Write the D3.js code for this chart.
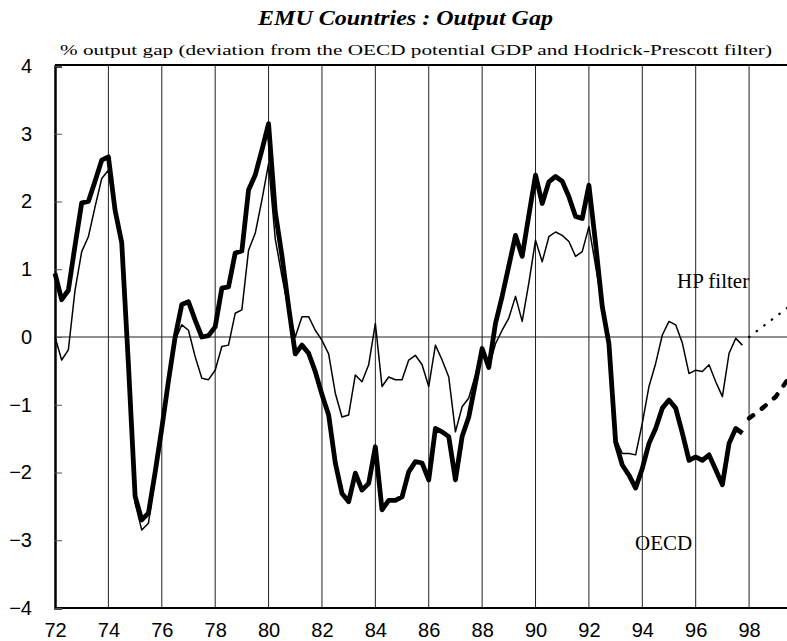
<!DOCTYPE html>
<html>
<head>
<meta charset="utf-8">
<script src="https://cdn.jsdelivr.net/npm/d3@7"></script>
<style>
  html, body { margin: 0; padding: 0; background: #fff; }
  svg { display: block; }
</style>
</head>
<body>
<div id="chart"></div>
<script>
// EMU output gap, quarterly, 1972Q1 - 1997Q4
const startYear = 72;
const oecdGap = [
  0.94, 0.55, 0.69, 1.35,   1.98, 2.0, 2.3, 2.61,     2.66, 1.87, 1.39, -0.4,
  -2.35, -2.7, -2.6, -2.0,  -1.35, -0.65, 0.0, 0.48,  0.52, 0.25, 0.0, 0.02,
  0.15, 0.72, 0.74, 1.24,   1.27, 2.17, 2.39, 2.76,   3.15, 1.85, 1.2, 0.45,
  -0.25, -0.12, -0.24, -0.51, -0.85, -1.15, -1.86, -2.31, -2.43, -2.01, -2.26, -2.16,
  -1.62, -2.55, -2.41, -2.41, -2.36, -1.99, -1.84, -1.86, -2.11, -1.35, -1.4, -1.47,
  -2.11, -1.47, -1.18, -0.68, -0.17, -0.45, 0.2, 0.6,   1.05, 1.5, 1.19, 1.8,
  2.39, 1.97, 2.29, 2.37,   2.3, 2.07, 1.78, 1.75,    2.24, 1.38, 0.45, -0.1,
  -1.55, -1.89, -2.04, -2.23, -1.94, -1.57, -1.35, -1.05, -0.93, -1.05, -1.42, -1.82,
  -1.77, -1.82, -1.74, -1.96, -2.18, -1.57, -1.35, -1.42
];
const hpGap = [
  0.0, -0.34, -0.19, 0.69,  1.26, 1.48, 1.92, 2.34,   2.46, 1.85, 1.3, -0.4,
  -2.45, -2.85, -2.75, -2.05, -1.3, -0.6, -0.05, 0.18, 0.1, -0.29, -0.61, -0.63,
  -0.49, -0.14, -0.12, 0.35, 0.4, 1.28, 1.53, 2.02,   2.56, 1.45, 0.9, 0.4,
  0.0, 0.3, 0.3, 0.1,       -0.05, -0.25, -0.83, -1.18, -1.15, -0.56, -0.66, -0.41,
  0.2, -0.73, -0.59, -0.63, -0.63, -0.34, -0.27, -0.41, -0.73, -0.12, -0.34, -0.59,
  -1.4, -1.03, -0.9, -0.56, -0.17, -0.45, -0.1, 0.1,  0.28, 0.6, 0.23, 0.8,
  1.43, 1.11, 1.48, 1.55,   1.5, 1.41, 1.19, 1.26,    1.63, 1.05, 0.45, -0.15,
  -1.5, -1.72, -1.72, -1.74, -1.27, -0.73, -0.39, 0.03, 0.23, 0.18, -0.09, -0.54,
  -0.49, -0.51, -0.41, -0.66, -0.88, -0.24, -0.02, -0.12
];
// projections beyond 98
const projYears = [98.0, 98.5, 99.0, 99.5];
const hpProj = [0.0, 0.15, 0.3, 0.45];
const oecdProj = [-1.2, -1.05, -0.88, -0.6];

const xTicks = [72, 74, 76, 78, 80, 82, 84, 86, 88, 90, 92, 94, 96, 98];
const yTicks = [-4, -3, -2, -1, 0, 1, 2, 3, 4];

const W = 787, H = 641;
const plotL = 55, plotR = 787, plotT = 66, plotB = 608;

const svg = d3.select('#chart').append('svg').attr('width', W).attr('height', H);

const x = d3.scaleLinear().domain([72, 99.42]).range([plotL, plotR]);
const y = d3.scaleLinear().domain([-4, 4]).range([plotB, plotT]);

const toPts = vals => vals.map((v, i) => ({ t: startYear + i / 4, v }));
const projPts = vals => vals.map((v, i) => ({ t: projYears[i], v }));

// vertical grid every two years
svg.append('g').selectAll('line').data(xTicks.slice(1)).join('line')
  .attr('x1', d => x(d)).attr('x2', d => x(d))
  .attr('y1', plotT).attr('y2', plotB)
  .attr('stroke', '#222').attr('stroke-width', 1);

// zero line
svg.append('line').attr('x1', plotL).attr('x2', plotR).attr('y1', y(0)).attr('y2', y(0))
  .attr('stroke', '#222').attr('stroke-width', 1.2);

// frame: top, bottom
svg.append('line').attr('x1', plotL).attr('x2', plotR).attr('y1', plotT - 1).attr('y2', plotT - 1)
  .attr('stroke', '#000').attr('stroke-width', 2);
svg.append('line').attr('x1', plotL).attr('x2', plotR).attr('y1', plotB).attr('y2', plotB)
  .attr('stroke', '#000').attr('stroke-width', 2);

// axes
const yAxis = svg.append('g').attr('transform', `translate(${plotL},0)`)
  .call(d3.axisLeft(y).tickValues(yTicks).tickSize(-7).tickPadding(23).tickFormat(d3.format('d')));
yAxis.select('.domain').attr('stroke-width', 2.5);
yAxis.selectAll('.tick line').attr('stroke', '#555');
yAxis.selectAll('text').attr('font-family', '"Liberation Sans", Arial, sans-serif').attr('font-size', 20).attr('fill', '#000');

const xAxis = svg.append('g').attr('transform', `translate(0,${plotB})`)
  .call(d3.axisBottom(x).tickValues(xTicks).tickSize(0).tickPadding(15).tickFormat(d3.format('d')));
xAxis.select('.domain').remove();
xAxis.selectAll('text').attr('font-family', '"Liberation Sans", Arial, sans-serif').attr('font-size', 20).attr('fill', '#000');

const line = d3.line().x(d => x(d.t)).y(d => y(d.v));

// HP filter (thin)
svg.append('path').datum(toPts(hpGap)).attr('d', line)
  .attr('fill', 'none').attr('stroke', '#000').attr('stroke-width', 1.5).attr('stroke-linejoin', 'round');
// OECD (thick)
svg.append('path').datum(toPts(oecdGap)).attr('d', line)
  .attr('fill', 'none').attr('stroke', '#000').attr('stroke-width', 4.8).attr('stroke-linejoin', 'round');

// projections
svg.append('path').datum(projPts(hpProj)).attr('d', line)
  .attr('fill', 'none').attr('stroke', '#000').attr('stroke-width', 2.2)
  .attr('stroke-linecap', 'round').attr('stroke-dasharray', '0.5,9');
svg.append('path').datum(projPts(oecdProj)).attr('d', line)
  .attr('fill', 'none').attr('stroke', '#000').attr('stroke-width', 4.5)
  .attr('stroke-linecap', 'round').attr('stroke-dasharray', '5,11');

// series labels
const serif = '"Liberation Serif", "Times New Roman", serif';
svg.append('text').attr('x', 677).attr('y', 288).attr('font-family', serif).attr('font-size', 21).text('HP filter');
svg.append('text').attr('x', 635).attr('y', 550).attr('font-family', serif).attr('font-size', 21).text('OECD');

// titles
svg.append('text').attr('x', 258).attr('y', 25).attr('font-family', serif).attr('font-size', 21)
  .attr('font-weight', 'bold').attr('font-style', 'italic')
  .attr('textLength', 295).attr('lengthAdjust', 'spacingAndGlyphs')
  .text('EMU Countries : Output Gap');
svg.append('text').attr('x', 60).attr('y', 55).attr('font-family', serif).attr('font-size', 15.5)
  .attr('textLength', 712).attr('lengthAdjust', 'spacingAndGlyphs')
  .text('% output gap (deviation from the OECD potential GDP and Hodrick-Prescott filter)');
</script>
</body>
</html>
